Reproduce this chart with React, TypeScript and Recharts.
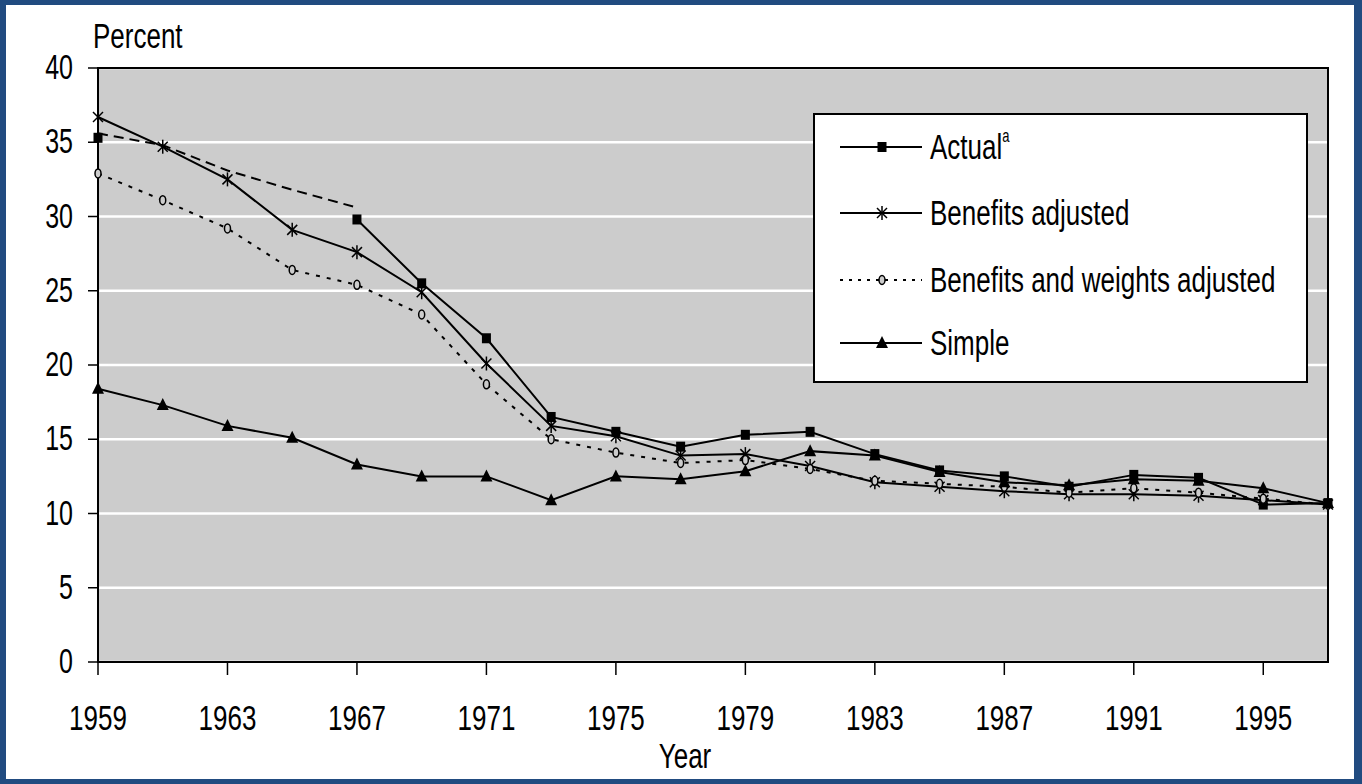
import React from 'react';
import { LineChart, Line, XAxis, YAxis, CartesianGrid, Legend, ReferenceArea } from 'recharts';

// survey years, every second year
const years = [1959, 1961, 1963, 1965, 1967, 1969, 1971, 1973, 1975, 1977, 1979, 1981, 1983, 1985, 1987, 1989, 1991, 1993, 1995, 1997];

// actual rate (no data 1961-1965)
const actualValues = [35.3, null, null, null, 29.8, 25.5, 21.8, 16.5, 15.5, 14.5, 15.3, 15.5, 14.0, 12.9, 12.5, 11.8, 12.6, 12.4, 10.6, 10.7];
// dashed estimate bridging the gap
const actualGap = [35.6, 34.8, 33.1, 31.8, 30.6, null, null, null, null, null, null, null, null, null, null, null, null, null, null, null];
const benefitsAdjusted = [36.7, 34.7, 32.5, 29.1, 27.6, 24.9, 20.1, 15.9, 15.2, 13.9, 14.0, 13.2, 12.1, 11.8, 11.5, 11.3, 11.3, 11.2, 10.9, 10.6];
const weightsAdjusted = [32.9, 31.1, 29.2, 26.4, 25.4, 23.4, 18.7, 15.0, 14.1, 13.4, 13.6, 13.0, 12.2, 12.0, 11.8, 11.4, 11.7, 11.4, 11.0, 10.6];
const simpleValues = [18.4, 17.3, 15.9, 15.1, 13.3, 12.5, 12.5, 10.9, 12.5, 12.3, 12.85, 14.2, 13.9, 12.8, 12.1, 11.9, 12.3, 12.2, 11.7, 10.7];

const yearTicks = [1959, 1963, 1967, 1971, 1975, 1979, 1983, 1987, 1991, 1995];
const percentTicks = [0, 5, 10, 15, 20, 25, 30, 35, 40];

const seriesNames = ['Actual', 'Benefits adjusted', 'Benefits and weights adjusted', 'Simple'];

const data = years.map((year, i) => ({
  year,
  actual: actualValues[i],
  actualGap: actualGap[i],
  benefits: benefitsAdjusted[i],
  weights: weightsAdjusted[i],
  simple: simpleValues[i],
}));

const FONT = "'Liberation Sans', Arial, sans-serif";
const STRETCH = 1.38; // the source image is stretched vertically

const SquareDot = (props: any) => {
  const { cx, cy } = props;
  if (cx == null || cy == null) return <g />;
  return <rect x={cx - 4.5} y={cy - 5} width={9} height={10} fill="#000" />;
};

const StarDot = (props: any) => {
  const { cx, cy } = props;
  if (cx == null || cy == null) return <g />;
  return (
    <g stroke="#000" strokeWidth={1.5}>
      <line x1={cx} y1={cy - 7} x2={cx} y2={cy + 7} />
      <line x1={cx - 5} y1={cy - 5} x2={cx + 5} y2={cy + 5} />
      <line x1={cx - 5} y1={cy + 5} x2={cx + 5} y2={cy - 5} />
    </g>
  );
};

const CircleDot = (props: any) => {
  const { cx, cy } = props;
  if (cx == null || cy == null) return <g />;
  return <ellipse cx={cx} cy={cy} rx={3} ry={4.5} fill="#cccccc" stroke="#000" strokeWidth={1.5} />;
};

const TriangleDot = (props: any) => {
  const { cx, cy } = props;
  if (cx == null || cy == null) return <g />;
  return <polygon points={`${cx},${cy - 7} ${cx + 6},${cy + 5} ${cx - 6},${cy + 5}`} fill="#000" />;
};

const XTick = (props: any) => {
  const { x, y, payload } = props;
  return (
    <text transform={`translate(${x},${y + 55}) scale(1,${STRETCH})`} textAnchor="middle" fontSize={26} fontFamily={FONT} fill="#000">
      {payload.value}
    </text>
  );
};

const YTick = (props: any) => {
  const { x, y, payload } = props;
  return (
    <text transform={`translate(${x - 15},${y + 11}) scale(1,${STRETCH})`} textAnchor="end" fontSize={25} fontFamily={FONT} fill="#000">
      {payload.value}
    </text>
  );
};

const PercentLabel = (props: any) => {
  const { viewBox } = props;
  return (
    <text transform={`translate(${viewBox.x + viewBox.width - 5},${viewBox.y - 20}) scale(1,${STRETCH})`} fontSize={26} fontFamily={FONT} fill="#000">
      Percent
    </text>
  );
};

const YearLabel = (props: any) => {
  const { viewBox } = props;
  return (
    <text transform={`translate(${viewBox.x + viewBox.width / 2 - 28},${viewBox.y + 106}) scale(1,${STRETCH})`} textAnchor="middle" fontSize={26} fontFamily={FONT} fill="#000">
      Year
    </text>
  );
};

const legendRows = [34, 100, 167, 230];

const renderLegend = () => (
  <svg width={495} height={270}>
    <rect x={1} y={1} width={493} height={268} fill="#fff" stroke="#000" strokeWidth={2} />
    {seriesNames.map((name, i) => {
      const y = legendRows[i];
      const dashed = i === 2;
      return (
        <g key={name}>
          <line x1={27} y1={y} x2={109} y2={y} stroke="#000" strokeWidth={2} strokeDasharray={dashed ? '3 6' : undefined} />
          {i === 0 && <SquareDot cx={69} cy={y} />}
          {i === 1 && <StarDot cx={69} cy={y} />}
          {i === 2 && <CircleDot cx={69} cy={y} />}
          {i === 3 && <TriangleDot cx={69} cy={y} />}
          <text transform={`translate(117,${y + 12}) scale(1,${STRETCH})`} fontSize={26} fontFamily={FONT} fill="#000">
            {name}
            {i === 0 && <tspan fontSize={13} dy={-12}>a</tspan>}
          </text>
        </g>
      );
    })}
  </svg>
);

export default function App() {
  return (
    <div style={{ position: 'fixed', left: 0, top: 0, width: 1362, height: 784, background: '#214b80' }}>
      <div style={{ position: 'absolute', left: 6, top: 5, width: 1348, height: 774, background: '#fff' }}>
        <LineChart width={1348} height={774} data={data} margin={{ top: 63, right: 26, left: 32, bottom: 57 }}>
          <CartesianGrid fill="#cccccc" vertical={false} stroke="#ffffff" strokeWidth={2.5} />
          <XAxis
            dataKey="year"
            type="number"
            domain={[1959, 1997]}
            ticks={yearTicks}
            height={60}
            tickSize={13}
            tickMargin={0}
            tick={<XTick />}
            axisLine={{ stroke: '#000', strokeWidth: 2 }}
            tickLine={{ stroke: '#000', strokeWidth: 1.5 }}
            label={<YearLabel />}
          />
          <YAxis
            type="number"
            domain={[0, 40]}
            ticks={percentTicks}
            width={60}
            tickSize={10}
            tickMargin={0}
            tick={<YTick />}
            axisLine={{ stroke: '#000', strokeWidth: 2 }}
            tickLine={{ stroke: '#000', strokeWidth: 1.5 }}
            label={<PercentLabel />}
          />
          <ReferenceArea x1={1959} x2={1997} y1={0} y2={40} fill="none" stroke="#000" strokeWidth={2} />
          <Legend
            content={renderLegend}
            layout="horizontal"
            align="center"
            verticalAlign="middle"
            wrapperStyle={{ left: 807, top: 108, width: 495, height: 270 }}
          />
          <Line type="linear" dataKey="actualGap" stroke="#000" strokeWidth={2} strokeDasharray="10 6" dot={false} activeDot={false} legendType="none" isAnimationActive={false} />
          <Line type="linear" dataKey="actual" name={seriesNames[0]} stroke="#000" strokeWidth={2} dot={<SquareDot />} activeDot={false} isAnimationActive={false} />
          <Line type="linear" dataKey="benefits" name={seriesNames[1]} stroke="#000" strokeWidth={2} dot={<StarDot />} activeDot={false} isAnimationActive={false} />
          <Line type="linear" dataKey="weights" name={seriesNames[2]} stroke="#000" strokeWidth={2} strokeDasharray="4 7" dot={<CircleDot />} activeDot={false} isAnimationActive={false} />
          <Line type="linear" dataKey="simple" name={seriesNames[3]} stroke="#000" strokeWidth={2} dot={<TriangleDot />} activeDot={false} isAnimationActive={false} />
        </LineChart>
      </div>
    </div>
  );
}
